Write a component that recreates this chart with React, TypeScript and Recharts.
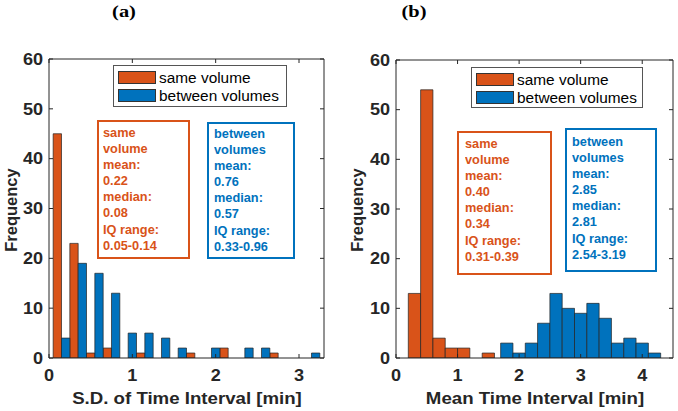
import React from "react";
import { BarChart, Bar, XAxis, YAxis } from "recharts";

// (a) S.D. of time interval, grouped bins [min]
const sdBins = [0.15, 0.35, 0.55, 0.75, 0.95, 1.15, 1.35, 1.55, 1.75, 1.95, 2.15, 2.35, 2.55, 2.75, 2.95, 3.15];
const sdSame = [45, 23, 1, 2, 0, 1, 0, 0, 1, 0, 2, 0, 0, 1, 0, 0];
const sdBetween = [4, 19, 17, 13, 5, 5, 4, 2, 0, 2, 0, 2, 2, 0, 0, 1];

// (b) mean time interval, histogram bin centers [min]
const meanSameBins = [0.3, 0.5, 0.7, 0.9, 1.1, 1.3, 1.5];
const meanSame = [13, 54, 4, 2, 2, 0, 1];
const meanBetweenBins = [1.8, 2.0, 2.2, 2.4, 2.6, 2.8, 3.0, 3.2, 3.4, 3.6, 3.8, 4.0, 4.2];
const meanBetween = [3, 1, 3, 7, 13, 10, 9, 11, 8, 3, 4, 3, 1];

const yTicks = [0, 10, 20, 30, 40, 50, 60];
const sdTicks = [0, 1, 2, 3];
const meanTicks = [0, 1, 2, 3, 4];

const sameStats = {
  a: ["same", "volume", "mean:", "0.22", "median:", "0.08", "IQ range:", "0.05-0.14"],
  b: ["same", "volume", "mean:", "0.40", "median:", "0.34", "IQ range:", "0.31-0.39"],
};
const betweenStats = {
  a: ["between", "volumes", "mean:", "0.76", "median:", "0.57", "IQ range:", "0.33-0.96"],
  b: ["between", "volumes", "mean:", "2.85", "median:", "2.81", "IQ range:", "2.54-3.19"],
};

const ORANGE = "#D95319";
const BLUE = "#0072BD";
const AXIS = "#262626";
const SANS = '"Liberation Sans", Arial, sans-serif';

const sdData = sdBins.map((x, i) => ({ x, same: sdSame[i], between: sdBetween[i] }));
const meanData = [
  ...meanSameBins.map((x, i) => ({ x, same: meanSame[i], between: 0 })),
  ...meanBetweenBins.map((x, i) => ({ x, same: 0, between: meanBetween[i] })),
];

const XTick = (props: any) => (
  <g transform={`translate(${props.x},${props.y})`}>
    <text transform="scale(1.13,1)" textAnchor="middle" dy="0.71em" fill={AXIS}
      style={{ fontFamily: SANS, fontWeight: "bold", fontSize: 16 }}>
      {props.payload.value}
    </text>
  </g>
);

const YTick = (props: any) => (
  <g transform={`translate(${props.x},${props.y})`}>
    <text transform="scale(1.13,1)" textAnchor="end" dy="0.36em" fill={AXIS}
      style={{ fontFamily: SANS, fontWeight: "bold", fontSize: 16 }}>
      {props.payload.value}
    </text>
  </g>
);

const NoTick = () => <g />;

const StatBox = ({ left, top, width, height, color, lines, padTop, padLeft }: any) => (
  <div
    style={{
      position: "absolute", left, top, width, height, boxSizing: "border-box",
      border: `2px solid ${color}`, background: "#fff", paddingTop: padTop, paddingLeft: padLeft,
      color, fontFamily: SANS, fontWeight: "bold", fontSize: 12.5, lineHeight: "16.1px",
    }}
  >
    {lines.map((l: string, i: number) => (
      <div key={i} style={{ transform: "scaleX(1.02)", transformOrigin: "left", whiteSpace: "nowrap" }}>{l}</div>
    ))}
  </div>
);

const LegendBox = ({ left, top, width, height }: any) => {
  const row = (color: string, label: string, y: number) => (
    <div style={{ position: "absolute", left: 4, top: y, height: 13, display: "flex", alignItems: "center" }}>
      <div style={{ width: 38, height: 13, boxSizing: "border-box", background: color, border: "1px solid #333" }} />
      <span style={{ marginLeft: 3, transform: "scaleX(1.1)", transformOrigin: "left", whiteSpace: "nowrap" }}>{label}</span>
    </div>
  );
  return (
    <div
      style={{
        position: "absolute", left, top, width, height, boxSizing: "border-box",
        border: "1px solid #555", background: "#fff", fontFamily: SANS, fontSize: 14, color: "#000",
      }}
    >
      {row(ORANGE, "same volume", 5)}
      {row(BLUE, "between volumes", 23)}
    </div>
  );
};

const Panel = ({ data, ticks, domain, barSize, stacked, margin }: any) => (
  <BarChart width={340} height={411} data={data} margin={margin} barGap={0}>
    <XAxis dataKey="x" type="number" domain={domain} ticks={ticks} allowDataOverflow interval={0}
      height={30} tickSize={-4} tickMargin={16} stroke={AXIS} tick={XTick} />
    <XAxis xAxisId="top" orientation="top" dataKey="x" type="number" domain={domain} ticks={ticks}
      allowDataOverflow interval={0} height={1} tickSize={-4} stroke={AXIS} tick={NoTick} />
    <YAxis type="number" domain={[0, 60]} ticks={yTicks} allowDataOverflow interval={0}
      width={40} tickSize={-4} tickMargin={10} stroke={AXIS} tick={YTick} />
    <YAxis yAxisId="right" orientation="right" type="number" domain={[0, 60]} ticks={yTicks}
      allowDataOverflow interval={0} width={1} tickSize={-4} stroke={AXIS} tick={NoTick} />
    <Bar dataKey="same" fill={ORANGE} stroke="#222" strokeWidth={0.7} barSize={barSize}
      stackId={stacked ? "s" : undefined} isAnimationActive={false} />
    <Bar dataKey="between" fill={BLUE} stroke="#222" strokeWidth={0.7} barSize={barSize}
      stackId={stacked ? "s" : undefined} isAnimationActive={false} />
  </BarChart>
);

const label = (text: string, cx: number, cy: number, rotate = false): any => (
  <div
    style={{
      position: "absolute", left: cx, top: cy, whiteSpace: "nowrap",
      transform: rotate ? "translate(-50%,-50%) rotate(-90deg)" : "translate(-50%,-50%) scaleX(1.13)",
      fontFamily: SANS, fontWeight: "bold", fontSize: 16.5, color: AXIS,
    }}
  >
    {text}
  </div>
);

const title = (text: string, cx: number) => (
  <div
    style={{
      position: "absolute", left: cx, top: 12, transform: "translate(-50%,-50%) scaleX(1.2)",
      fontFamily: '"Liberation Serif", "Times New Roman", serif', fontWeight: "bold", fontSize: 17, color: "#000",
    }}
  >
    {text}
  </div>
);

export default function App() {
  return (
    <div style={{ position: "absolute", left: 0, top: 0, width: 678, height: 411, background: "#fff", overflow: "hidden" }}>
      <div style={{ position: "absolute", left: 0, top: 0 }}>
        <Panel data={sdData} ticks={sdTicks} domain={[0, 3.3]} barSize={8.33} stacked={false}
          margin={{ top: 58, right: 15, bottom: 23, left: 9 }} />
      </div>
      <div style={{ position: "absolute", left: 338, top: 0 }}>
        <Panel data={meanData} ticks={meanTicks} domain={[0, 4.5]} barSize={12.3} stacked
          margin={{ top: 59, right: 4, bottom: 23, left: 18 }} />
      </div>

      {title("(a)", 124)}
      {title("(b)", 414)}

      <LegendBox left={113} top={65} width={174} height={42} />
      <LegendBox left={471} top={67} width={172} height={41} />

      <StatBox left={97} top={120} width={93} height={139} color={ORANGE} lines={sameStats.a} padTop={3} padLeft={4} />
      <StatBox left={207} top={122} width={88} height={137} color={BLUE} lines={betweenStats.a} padTop={2} padLeft={5} />
      <StatBox left={457} top={131} width={95} height={144} color={ORANGE} lines={sameStats.b} padTop={3} padLeft={6} />
      <StatBox left={565} top={128} width={92} height={144} color={BLUE} lines={betweenStats.b} padTop={4} padLeft={5} />

      {label("S.D. of Time Interval [min]", 187, 398)}
      {label("Mean Time Interval [min]", 535, 398)}
      {label("Frequency", 11, 210, true)}
      {label("Frequency", 357, 210, true)}
    </div>
  );
}
